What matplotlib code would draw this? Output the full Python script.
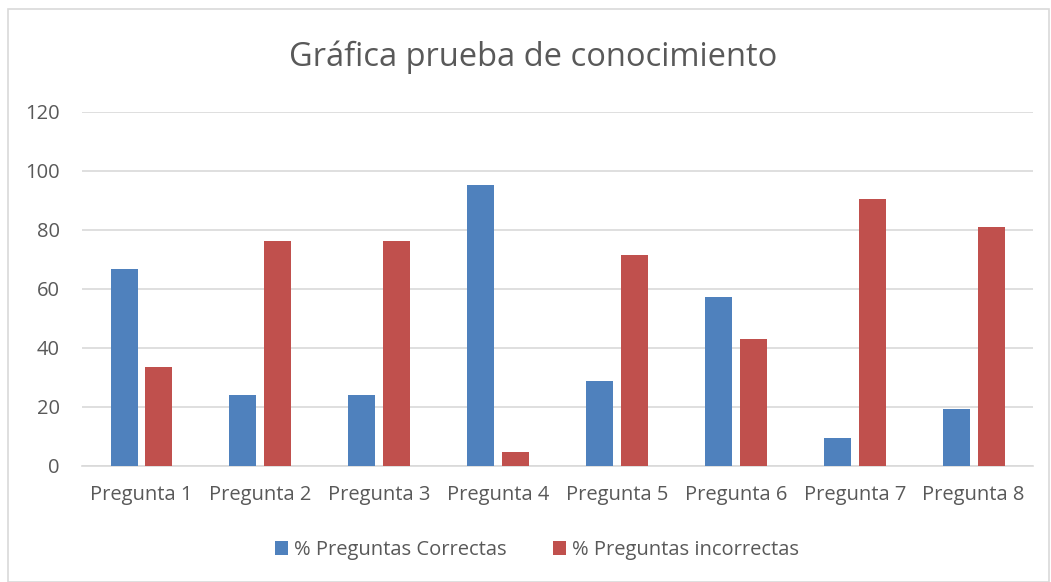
import numpy as np
import matplotlib.pyplot as plt
from matplotlib.patches import Rectangle

categorias = ['Pregunta 1', 'Pregunta 2', 'Pregunta 3', 'Pregunta 4',
              'Pregunta 5', 'Pregunta 6', 'Pregunta 7', 'Pregunta 8']
correctas = [66.67, 23.81, 23.81, 95.24, 28.57, 57.14, 9.52, 19.05]
incorrectas = [33.33, 76.19, 76.19, 4.76, 71.43, 42.86, 90.48, 80.95]
yticks = [0, 20, 40, 60, 80, 100, 120]

plt.rcParams['font.family'] = ['Open Sans', 'DejaVu Sans']

fig = plt.figure(figsize=(10.51, 5.82), dpi=100)
fig.patches.append(Rectangle((0.008, 0.0), 0.99, 0.985, transform=fig.transFigure,
                             fill=False, edgecolor='#d9d9d9', lw=1.2))
ax = fig.add_axes([0.078, 0.2, 0.905, 0.608])

x = np.arange(len(categorias))
w = 0.227
ax.bar(x - 0.146, correctas, w, color='#4F81BD', label='% Preguntas Correctas', zorder=3)
ax.bar(x + 0.146, incorrectas, w, color='#C0504D', label='% Preguntas incorrectas', zorder=3)

ax.set_xlim(-0.5, len(categorias) - 0.5)
ax.set_ylim(0, 120)
ax.set_yticks(yticks)
ax.set_xticks(x)
ax.set_xticklabels(categorias)
ax.grid(axis='y', color='#d9d9d9', lw=1.2, zorder=0)
for s in ['top', 'right', 'left']:
    ax.spines[s].set_visible(False)
ax.spines['bottom'].set_color('#d9d9d9')
ax.spines['bottom'].set_linewidth(1.2)
ax.tick_params(length=0, labelsize=14.5, colors='#595959')
ax.tick_params(axis='x', pad=14)
ax.tick_params(axis='y', pad=16)

fig.text(0.507, 0.902, 'Gráfica prueba de conocimiento', ha='center', va='center',
         fontsize=23.5, color='#595959')
fig.legend(loc='center', bbox_to_anchor=(0.511, 0.055), ncol=2, frameon=False,
           fontsize=14.5, labelcolor='#595959', handlelength=0.65, handleheight=0.65,
           handletextpad=0.3, columnspacing=2.3)

fig.savefig('out.png', dpi=100)
